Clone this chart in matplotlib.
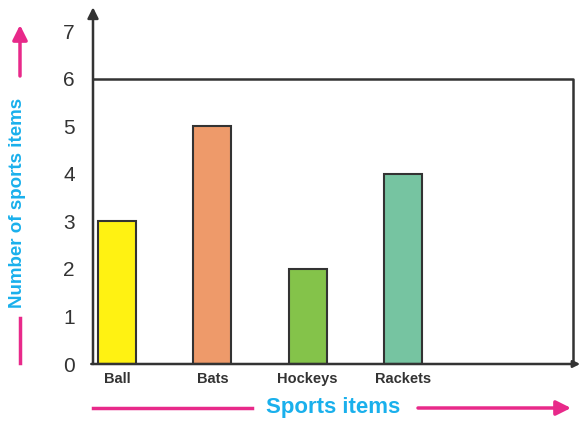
import matplotlib.pyplot as plt
from matplotlib.patches import FancyArrowPatch

plt.rcParams['font.family'] = ['Liberation Sans', 'DejaVu Sans']

# Data
items = ["Ball", "Bats", "Hockeys", "Rackets"]
counts = [3, 5, 2, 4]
bar_colors = ["#FFF212", "#EE9A6A", "#84C34A", "#76C4A1"]
y_ticks = [0, 1, 2, 3, 4, 5, 6, 7]

pink = "#E8298A"
cyan = "#1AB0EC"
dark = "#333333"

W, H = 580, 421
fig = plt.figure(figsize=(W / 100, H / 100), dpi=100)
# axes placed in pixel terms: left 93, right 578, bottom 364, top 12
ax = fig.add_axes([93 / W, (H - 364) / H, (578 - 93) / W, (364 - 12) / H])

x = list(range(len(items)))
ax.bar(x, counts, width=0.4, color=bar_colors, edgecolor=dark, linewidth=1.5, zorder=3)

ax.set_xlim(-0.252, 4.837)
ax.set_ylim(0, 7.4)
for s in ax.spines.values():
    s.set_visible(False)

ax.set_yticks(y_ticks)
ax.set_yticklabels([str(t) for t in y_ticks], fontsize=15, color=dark)
ax.tick_params(axis="y", length=0, pad=13)
ax.set_xticks(x)
ax.set_xticklabels(items, fontsize=10.5, fontweight="bold", color=dark)
ax.tick_params(axis="x", length=0, pad=6)

# axes with arrows
ax.annotate("", xy=(-0.252, 7.5), xytext=(-0.252, 0), xycoords="data",
            arrowprops=dict(arrowstyle="-|>", color=dark, lw=1.8, mutation_scale=16,
                            shrinkA=0, shrinkB=0), annotation_clip=False)
ax.annotate("", xy=(4.86, 0), xytext=(-0.27, 0), xycoords="data",
            arrowprops=dict(arrowstyle="-|>", color=dark, lw=1.8, mutation_scale=10,
                            shrinkA=0, shrinkB=0), annotation_clip=False)
# box at level 6
ax.plot([-0.252, 4.785, 4.785], [6, 6, 0], color=dark, lw=1.8, clip_on=False, zorder=2)

# y label with pink arrows
fig.text(18 / W, 1 - 203 / H, "Number of sports items", rotation=90, color=cyan,
         fontsize=13.5, fontweight="bold", ha="center", va="center")
fig.add_artist(plt.Line2D([20 / W, 20 / W], [1 - 318 / H, 1 - 363 / H],
                          color=pink, lw=2.5))
fig.add_artist(FancyArrowPatch(
    (20 / W, 1 - 76 / H), (20 / W, 1 - 25 / H), transform=fig.transFigure,
    arrowstyle="-|>", color=pink, lw=2.5, mutation_scale=22, shrinkA=0, shrinkB=0))

# x label with pink arrows
fig.text(333 / W, 1 - 408 / H, "Sports items", color=cyan, fontsize=16,
         fontweight="bold", ha="center", va="center")
fig.add_artist(plt.Line2D([93 / W, 252 / W], [1 - 408 / H, 1 - 408 / H],
                          color=pink, lw=2.5))
fig.add_artist(FancyArrowPatch(
    (418 / W, 1 - 408 / H), (571 / W, 1 - 408 / H), transform=fig.transFigure,
    arrowstyle="-|>", color=pink, lw=2.5, mutation_scale=22, shrinkA=0, shrinkB=0))

fig.savefig("out.png", dpi=100)
